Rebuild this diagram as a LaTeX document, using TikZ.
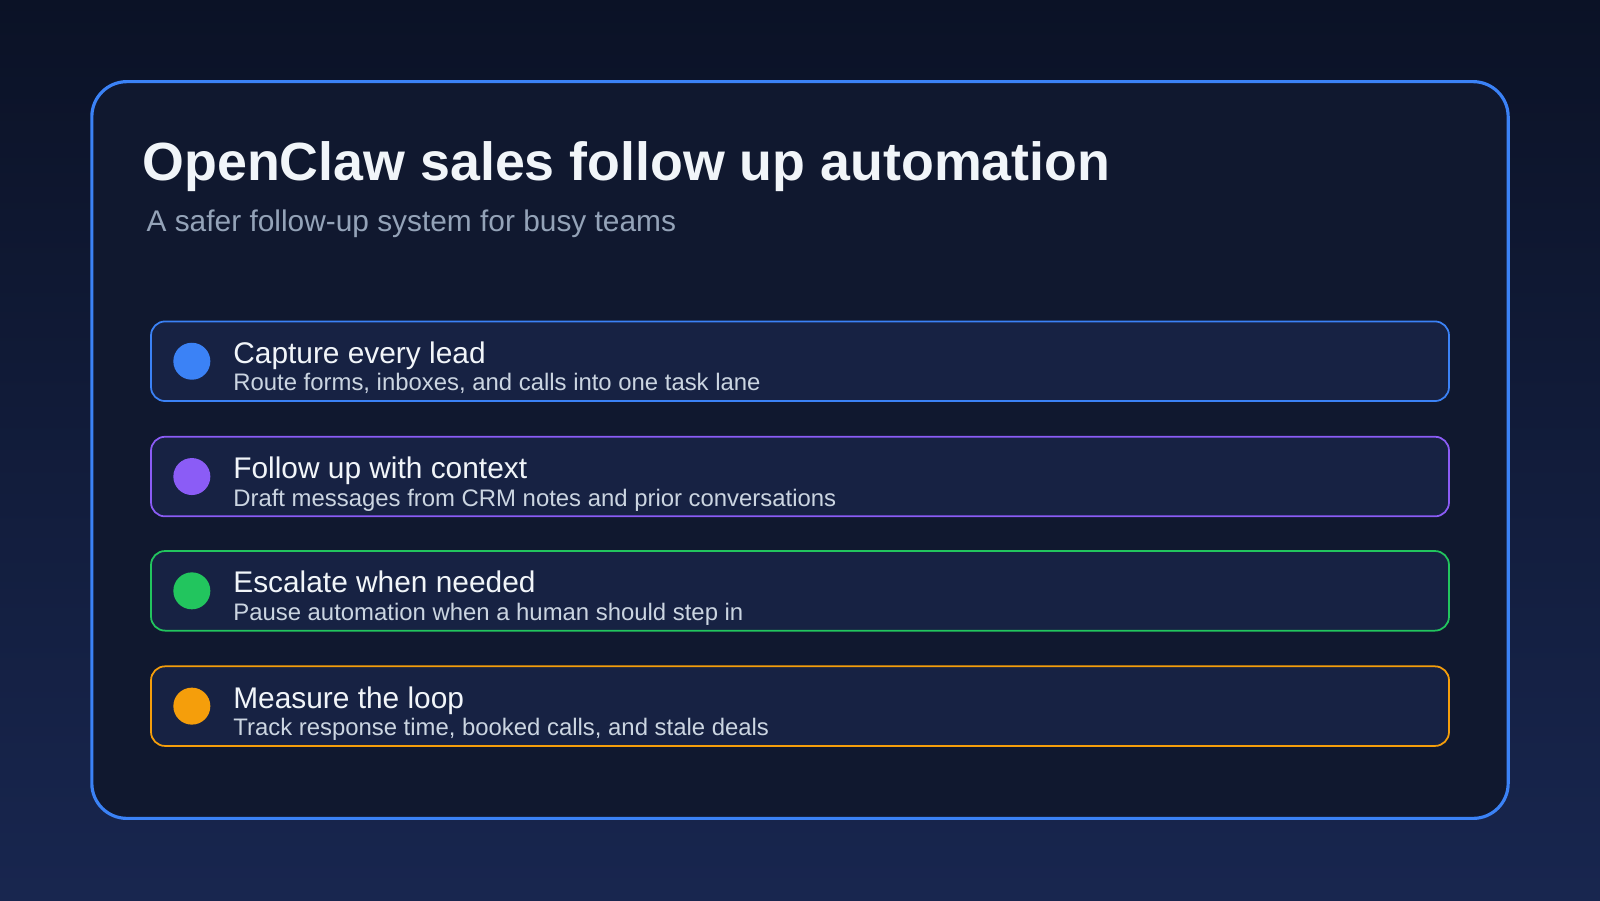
\documentclass[tikz,border=0pt]{standalone}
\usepackage{fontspec}
\setmainfont{Liberation Sans}
\usetikzlibrary{positioning, backgrounds}
\definecolor{bgtop}{HTML}{0B1226}
\definecolor{bgbot}{HTML}{18264F}
\definecolor{panel}{HTML}{10182F}
\definecolor{card}{HTML}{172243}
\definecolor{cblue}{HTML}{3B82F6}
\definecolor{cpurple}{HTML}{8B5CF6}
\definecolor{cgreen}{HTML}{22C55E}
\definecolor{corange}{HTML}{F59E0B}
\definecolor{subgray}{HTML}{94A3B8}
\definecolor{txt}{HTML}{F1F5F9}
\definecolor{subtxt}{HTML}{CBD5E1}
\tikzset{%
	panelbox/.style={draw=cblue, line width=0.9pt, fill=panel, rounded corners=0.35cm},
	cardbox/.style={line width=0.5pt, fill=card, rounded corners=0.14cm},
	dot/.style={circle, minimum size=0.37cm, inner sep=0mm},
	heading/.style={anchor=base west, inner sep=0mm, text=txt, font=\fontsize{8.5}{10}\selectfont},
	detail/.style={anchor=base west, inner sep=0mm, text=subtxt, font=\fontsize{6.8}{8}\selectfont}
}

\begin{document}
\begin{tikzpicture}[x=0.010204cm, y=-0.010204cm]
	\shade[top color=bgtop, bottom color=bgbot] (0,0) rectangle (1568,882);
	\useasboundingbox (0,0) rectangle (1568,882);
	\draw[panelbox] (90,80) rectangle (1478,802);

	\node[anchor=base west, inner sep=0mm, text=txt, font=\bfseries\fontsize{15.3}{18}\selectfont] (title) at (139,177) {OpenClaw sales follow up automation};
	\node[anchor=base west, inner sep=0mm, text=subgray, font=\fontsize{8.5}{10}\selectfont] (subtitle) at (143,227) {A safer follow-up system for busy teams};

	% cards
	\draw[cardbox, draw=cblue] (148,315) rectangle (1420,393);
	\node[dot, fill=cblue] (d1) at (188,354) {};
	\node[heading] (h1) at (228,356) {Capture every lead};
	\node[detail] (s1) at (228,383) {Route forms, inboxes, and calls into one task lane};

	\draw[cardbox, draw=cpurple] (148,428) rectangle (1420,506);
	\node[dot, fill=cpurple] (d2) at (188,467) {};
	\node[heading] (h2) at (228,469) {Follow up with context};
	\node[detail] (s2) at (228,496) {Draft messages from CRM notes and prior conversations};

	\draw[cardbox, draw=cgreen] (148,540) rectangle (1420,618);
	\node[dot, fill=cgreen] (d3) at (188,579) {};
	\node[heading] (h3) at (228,581) {Escalate when needed};
	\node[detail] (s3) at (228,608) {Pause automation when a human should step in};

	\draw[cardbox, draw=corange] (148,653) rectangle (1420,731);
	\node[dot, fill=corange] (d4) at (188,692) {};
	\node[heading] (h4) at (228,694) {Measure the loop};
	\node[detail] (s4) at (228,721) {Track response time, booked calls, and stale deals};
\end{tikzpicture}
\end{document}
